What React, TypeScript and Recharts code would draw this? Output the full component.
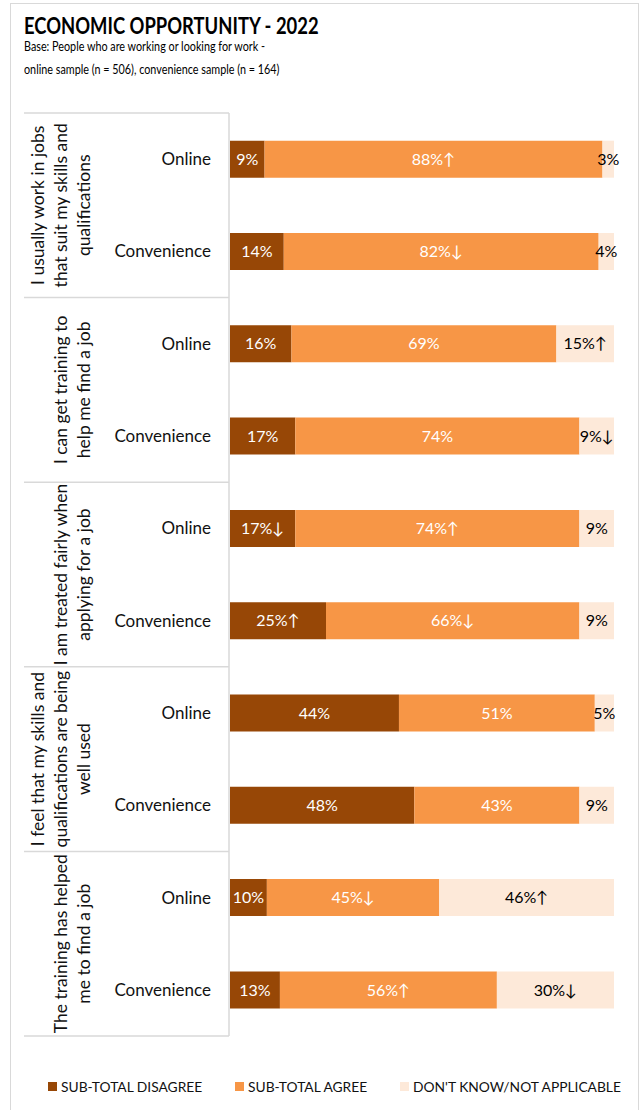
import { BarChart, Bar, XAxis, YAxis, LabelList } from 'recharts';

const groups = [
    ['I usually work in jobs', 'that suit my skills and', 'qualifications'],
    ['I can get training to', 'help me find a job'],
    ['I am treated fairly when', 'applying for a job'],
    ['I feel that my skills and', 'qualifications are being', 'well used'],
    ['The training has helped', 'me to find a job'],
];
const samples = ['Online', 'Convenience', 'Online', 'Convenience', 'Online', 'Convenience', 'Online', 'Convenience', 'Online', 'Convenience'];

const disagree = [9, 14, 16, 17, 17, 25, 44, 48, 9.6, 13];
const agree = [88, 82, 69, 74, 74, 66, 51, 43, 44.9, 56.5];
const dontKnow = [3, 4, 15, 9, 9, 9, 5, 9, 45.5, 30.5];

const disagreeLabels = ['9%', '14%', '16%', '17%', '17%↓', '25%↑', '44%', '48%', '10%', '13%'];
const agreeLabels = ['88%↑', '82%↓', '69%', '74%', '74%↑', '66%↓', '51%', '43%', '45%↓', '56%↑'];
const dontKnowLabels = ['3%', '4%', '15%↑', '9%↓', '9%', '9%', '5%', '9%', '46%↑', '30%↓'];

const seriesNames = ['SUB-TOTAL DISAGREE', 'SUB-TOTAL AGREE', "DON'T KNOW/NOT APPLICABLE"];
const colors = ['#974706', '#F79646', '#FDE9D9'];

const data = samples.map((s, i) => ({
    id: i,
    sample: s,
    disagree: disagree[i],
    agree: agree[i],
    dontKnow: dontKnow[i],
    disagreeLabel: disagreeLabels[i],
    agreeLabel: agreeLabels[i],
    dontKnowLabel: dontKnowLabels[i],
}));

const FONT = "Lato, 'DejaVu Sans', sans-serif";
const TOP = 113;
const BOTTOM = 74;
const HEIGHT = 1110;
const BAND = (HEIGHT - TOP - BOTTOM) / samples.length;
const LINE = '#d9d9d9';

function SampleTick(props: any) {
    const { y, payload, index } = props;
    const i = Number(payload.value);
    const top = y - BAND / 2;
    const isFirst = i % 2 === 0;
    const lines = isFirst ? groups[i / 2] : [];
    const groupCenter = top + BAND;
    return (
        <g>
            <text x={211} y={y + 6} textAnchor="end" fontSize={17} fill="#111" fontFamily={FONT}>
                {samples[i]}
            </text>
            {isFirst && <line x1={24} x2={229} y1={top} y2={top} stroke={LINE} strokeWidth={1.5} />}
            {i === samples.length - 1 && (
                <line x1={24} x2={229} y1={y + BAND / 2} y2={y + BAND / 2} stroke={LINE} strokeWidth={1.5} />
            )}
            {index === 0 && (
                <line x1={229} x2={229} y1={TOP} y2={HEIGHT - BOTTOM} stroke={LINE} strokeWidth={1.5} />
            )}
            {lines.map((t, k) => {
                const lx = 84 - (lines.length - 1 - k) * 23 + 6;
                return (
                    <text
                        key={k}
                        x={lx}
                        y={groupCenter}
                        transform={`rotate(-90 ${lx} ${groupCenter})`}
                        textAnchor="middle"
                        fontSize={17.5}
                        fill="#111"
                        fontFamily={FONT}
                    >
                        {t}
                    </text>
                );
            })}
        </g>
    );
}

function LegendRow() {
    const xs = [48, 235, 400];
    return (
        <svg width={643} height={20} style={{ position: 'absolute', left: 0, top: 1077 }}>
            {seriesNames.map((n, i) => (
                <g key={n}>
                    <rect x={xs[i]} y={5} width={9} height={9} fill={colors[i]} />
                    <text x={xs[i] + 13} y={14.5} fontSize={13.8} fill="#111" fontFamily={FONT}>
                        {n}
                    </text>
                </g>
            ))}
        </svg>
    );
}

function App() {
    return (
        <div style={{ position: 'absolute', left: 0, top: 0, width: 643, height: 1110, background: '#fff', fontFamily: FONT }}>
            <div style={{ position: 'absolute', left: 10, top: 3, width: 627, height: 1110, border: '1px solid #d9d9d9', borderBottom: 'none' }} />
            <div
                style={{
                    position: 'absolute',
                    left: 24,
                    top: 11,
                    fontSize: 23,
                    fontWeight: 'bold',
                    color: '#000',
                    whiteSpace: 'nowrap',
                    transform: 'scaleX(0.8)',
                    transformOrigin: 'left center',
                }}
            >
                ECONOMIC OPPORTUNITY - 2022
            </div>
            <div
                style={{
                    position: 'absolute',
                    left: 24,
                    top: 35,
                    fontSize: 13,
                    lineHeight: '23px',
                    color: '#000',
                    whiteSpace: 'nowrap',
                    transform: 'scaleX(0.83)',
                    transformOrigin: 'left center',
                }}
            >
                Base: People who are working or looking for work -<br />
                online sample (n = 506), convenience sample (n = 164)
            </div>
            <div style={{ position: 'absolute', left: 0, top: 0 }}>
                <BarChart
                    width={643}
                    height={HEIGHT}
                    data={data}
                    layout="vertical"
                    barCategoryGap="30%"
                    margin={{ top: TOP, bottom: BOTTOM, left: 24, right: 29 }}
                >
                    <XAxis type="number" domain={[0, 100]} hide />
                    <YAxis
                        type="category"
                        dataKey="id"
                        width={206}
                        axisLine={false}
                        tickLine={false}
                        tick={<SampleTick />}
                        interval={0}
                    />
                    <Bar dataKey="disagree" stackId="a" fill={colors[0]} name={seriesNames[0]} isAnimationActive={false}>
                        <LabelList dataKey="disagreeLabel" position="center" fill="#fff" fontSize={16} fontFamily={FONT} />
                    </Bar>
                    <Bar dataKey="agree" stackId="a" fill={colors[1]} name={seriesNames[1]} isAnimationActive={false}>
                        <LabelList dataKey="agreeLabel" position="center" fill="#fff" fontSize={16} fontFamily={FONT} />
                    </Bar>
                    <Bar dataKey="dontKnow" stackId="a" fill={colors[2]} name={seriesNames[2]} isAnimationActive={false}>
                        <LabelList dataKey="dontKnowLabel" position="center" fill="#000" fontSize={16} fontFamily={FONT} />
                    </Bar>
                </BarChart>
            </div>
            <LegendRow />
        </div>
    );
}

export default App;
